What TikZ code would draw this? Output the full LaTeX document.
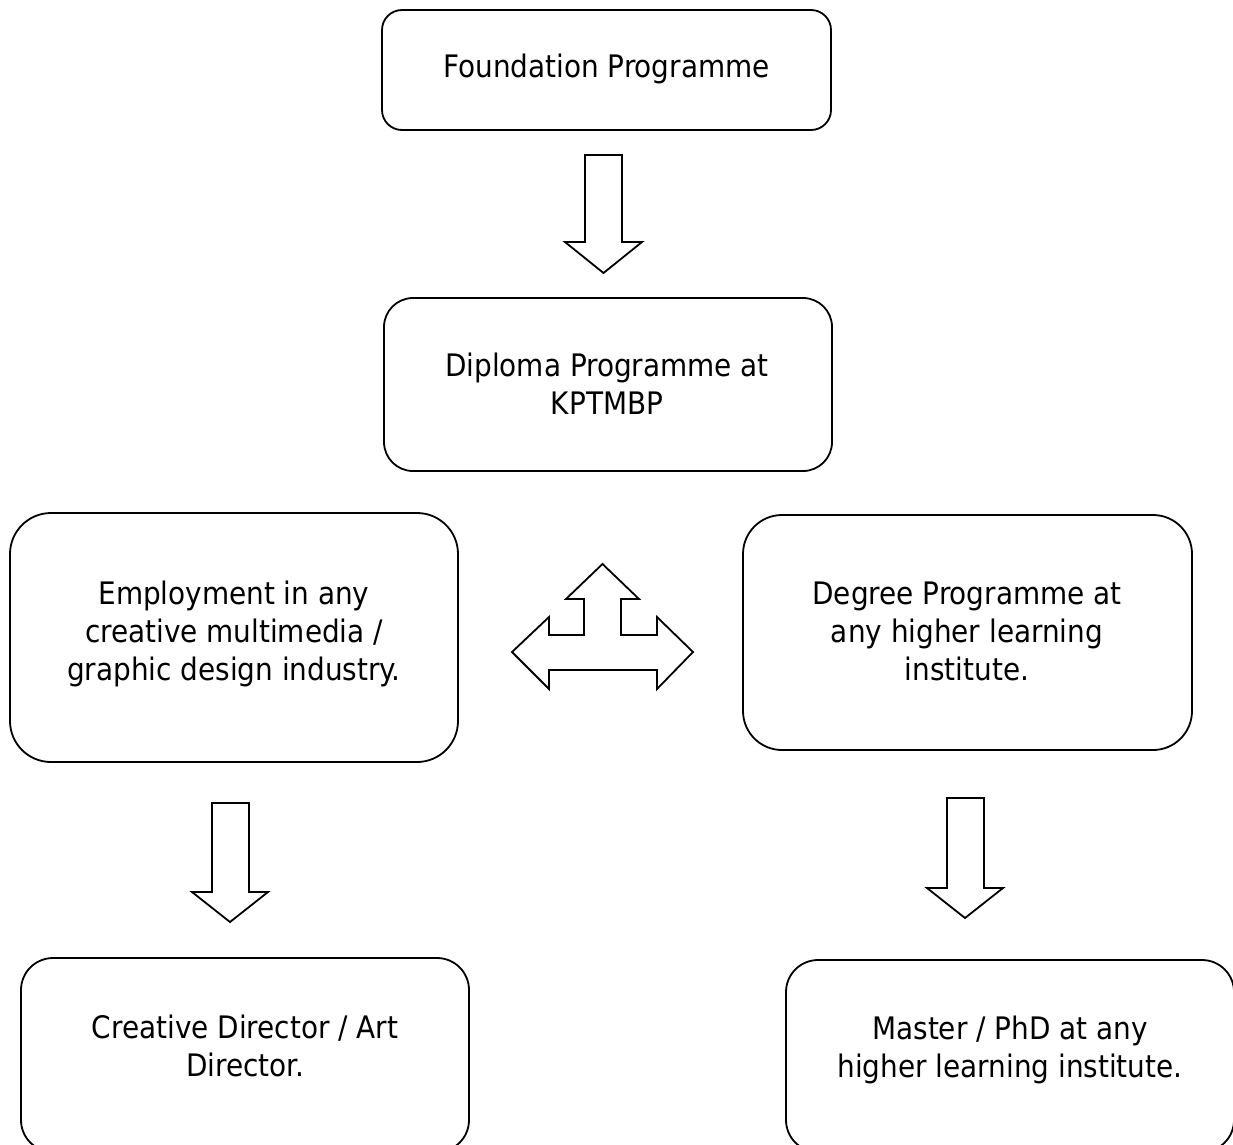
\documentclass[tikz,border=0pt]{standalone}
\usepackage{fontspec}
\setmainfont{DejaVu Sans Condensed}
\begin{document}
\begin{tikzpicture}[x=1pt,y=-1pt,
  box/.style={draw,line width=1.8pt,rounded corners=#1,inner sep=0pt},
  box/.default=30pt,
  txt/.style={align=center,inner sep=0pt,font=\fontsize{31}{38}\selectfont},
  blockarrow/.style={draw,line width=1.8pt,line join=miter,fill=white}]
\useasboundingbox (0,0) rectangle (1233,1144);
\clip (0,0) rectangle (1233,1144);
% boxes
\draw[box=20pt] (382,10) rectangle (831,130);
\node[txt] (found) at (606.5,69) {Foundation Programme};
\draw[box=29pt] (384,298) rectangle (832,471);
\node[txt] (dipl) at (607,384) {Diploma Programme at\\KPTMBP};
\draw[box=41pt] (10,513) rectangle (458,762);
\node[txt] (empl) at (234,634) {Employment in any\\creative multimedia /\\graphic design industry.};
\draw[box=39pt] (743,515) rectangle (1192,750);
\node[txt] (degr) at (967,631) {Degree Programme at\\any higher learning\\institute.};
\draw[box=32pt] (21,958) rectangle (469,1152);
\node[txt] (crea) at (245,1046) {Creative Director / Art\\Director.};
\draw[box=32pt] (786,960) rectangle (1234,1152);
\node[txt] (mast) at (1010,1050) {Master / PhD at any\\higher learning institute.};
% block arrows
\draw[blockarrow] (585,155) -- (622,155) -- (622,242) -- (642,242) -- (603.5,273) -- (565,242) -- (585,242) -- cycle;
\draw[blockarrow] (212,803) -- (249,803) -- (249,892) -- (268,892) -- (230,922) -- (192,892) -- (212,892) -- cycle;
\draw[blockarrow] (947,798) -- (984,798) -- (984,888) -- (1003,888) -- (965,918) -- (927,888) -- (947,888) -- cycle;
\draw[blockarrow] (602.5,564) -- (639,599) -- (621,599) -- (621,635) -- (657,635) -- (657,617) -- (693,652) -- (657,689) -- (657,670) -- (549,670) -- (549,689) -- (512,652) -- (549,617) -- (549,635) -- (584,635) -- (584,599) -- (566,599) -- cycle;
\end{tikzpicture}
\end{document}
